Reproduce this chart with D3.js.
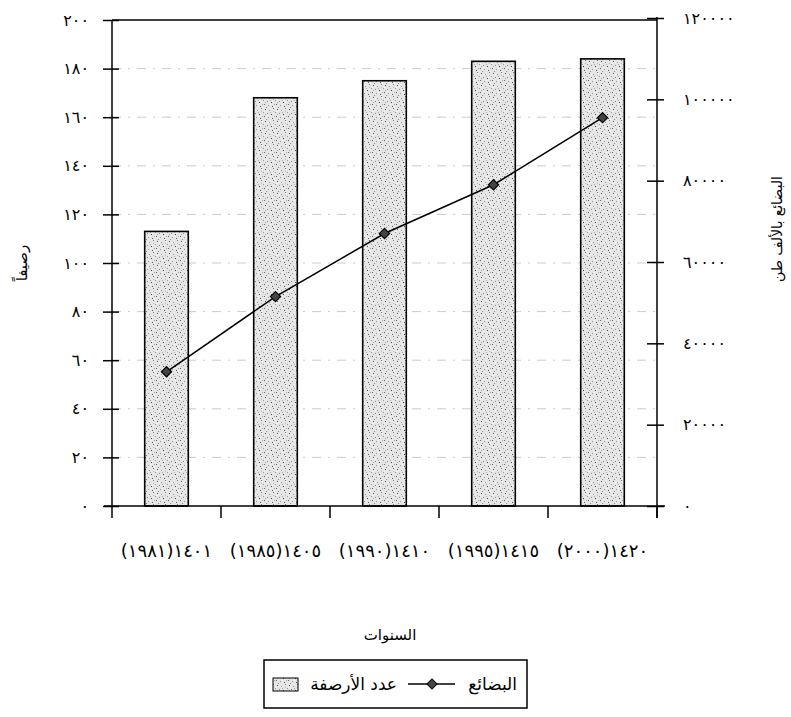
<!DOCTYPE html>
<html><head><meta charset="utf-8">
<script src="https://cdn.jsdelivr.net/npm/d3@7"></script>
<style>
body{margin:0;background:#fff}
svg text{font-family:"DejaVu Sans",sans-serif;fill:#000}
</style>
</head><body><svg id="c" width="791" height="717"></svg>
<script>
// ---- data ----
const categories = ["١٤٠١(١٩٨١)","١٤٠٥(١٩٨٥)","١٤١٠(١٩٩٠)","١٤١٥(١٩٩٥)","١٤٢٠(٢٠٠٠)"];
const berths = [113, 168, 175, 183, 184];          // عدد الأرصفة
const cargo  = [33000, 51500, 67000, 79000, 95500]; // البضائع بالألف طن
const leftTicks = [0,20,40,60,80,100,120,140,160,180,200];
const leftTickLabels = ["٠","٢٠","٤٠","٦٠","٨٠","١٠٠","١٢٠","١٤٠","١٦٠","١٨٠","٢٠٠"];
const rightTicks = [0,20000,40000,60000,80000,100000,120000];
const rightTickLabels = ["٠","٢٠٠٠٠","٤٠٠٠٠","٦٠٠٠٠","٨٠٠٠٠","١٠٠٠٠٠","١٢٠٠٠٠"];
const leftTitle = "رصيفاً";
const rightTitle = "البضائع بالألف طن";
const xTitle = "السنوات";
const legendLabels = ["عدد الأرصفة","البضائع"];

// ---- layout ----
const L = 112, R = 657, T = 20, B = 506;
const svg = d3.select("#c");

// stipple pattern
const defs = svg.append("defs");
const pat = defs.append("pattern").attr("id","stip").attr("patternUnits","userSpaceOnUse")
  .attr("width",12).attr("height",12);
pat.append("rect").attr("width",12).attr("height",12).attr("fill","#e6e6e6");
const dots = [[1,1,"#555"],[5,2,"#999"],[9,0,"#777"],[3,5,"#888"],[7,6,"#444"],[11,4,"#999"],
  [0,8,"#666"],[4,9,"#999"],[8,10,"#555"],[10,8,"#aaa"],[2,11,"#888"],[6,4,"#aaa"],[9,3,"#bbb"],[1,6,"#aaa"],
  [6,8,"#f8f8f8"],[3,2,"#f8f8f8"],[10,11,"#f8f8f8"],[8,5,"#fafafa"],[0,3,"#fafafa"]];
dots.forEach(([x,y,c])=>pat.append("rect").attr("x",x).attr("y",y).attr("width",1).attr("height",1).attr("fill",c));

const x = d3.scaleBand().domain(categories).range([L,R]).paddingInner(0.6).paddingOuter(0.3);
const yL = d3.scaleLinear().domain([0,200]).range([B,T]);
const yR = d3.scaleLinear().domain([0,120000]).range([B,T-2]);

// grid lines
svg.append("g").selectAll("line").data(leftTicks.filter(d=>d>0 && d<200)).join("line")
  .attr("x1",L).attr("x2",R).attr("y1",d=>yL(d)).attr("y2",d=>yL(d))
  .attr("stroke","#b5b5b5").attr("stroke-width",0.7).attr("stroke-dasharray","9,7,2,7");

// top frame
svg.append("line").attr("x1",L).attr("x2",R).attr("y1",T).attr("y2",T).attr("stroke","#000").attr("stroke-width",1.5);

// bars
svg.append("g").selectAll("rect").data(categories).join("rect")
  .attr("x",d=>x(d)).attr("width",x.bandwidth())
  .attr("y",(d,i)=>yL(berths[i])).attr("height",(d,i)=>B-yL(berths[i]))
  .attr("fill","url(#stip)").attr("stroke","#000").attr("stroke-width",1.6);

// left axis
const gl = svg.append("g").attr("transform",`translate(${L},0)`)
  .call(d3.axisLeft(yL).tickValues(leftTicks).tickFormat((d,i)=>leftTickLabels[i]).tickSize(9).tickPadding(14));
gl.select(".domain").remove();
gl.selectAll(".tick line").attr("x1",7).attr("stroke-width",1.5);
gl.selectAll(".tick text").attr("font-size",16).attr("letter-spacing",3.5).attr("font-family","DejaVu Sans");
gl.append("line").attr("x1",0).attr("x2",0).attr("y1",T).attr("y2",B+12).attr("stroke","#000").attr("stroke-width",1.5);

// right axis
const gr = svg.append("g").attr("transform",`translate(${R},0)`)
  .call(d3.axisRight(yR).tickValues(rightTicks).tickFormat((d,i)=>rightTickLabels[i]).tickSize(7).tickPadding(19));
gr.select(".domain").remove();
gr.selectAll(".tick line").attr("x1",-10).attr("stroke-width",1.5);
gr.selectAll(".tick text").attr("font-size",16).attr("letter-spacing",4).attr("font-family","DejaVu Sans");
gr.append("line").attr("x1",0).attr("x2",0).attr("y1",T-3).attr("y2",B+12).attr("stroke","#000").attr("stroke-width",1.5);

// x axis
const gx = svg.append("g").attr("transform",`translate(0,${B})`);
gx.append("line").attr("x1",L-8).attr("x2",R+8).attr("y1",0).attr("y2",0).attr("stroke","#000").attr("stroke-width",1.5);
const bounds = categories.map(d=>x(d)-x.step()*x.paddingInner()/2).concat([R]);
gx.selectAll("line.tk").data(bounds.slice(1)).join("line").attr("class","tk")
  .attr("x1",d=>d).attr("x2",d=>d).attr("y1",0).attr("y2",12).attr("stroke","#000").attr("stroke-width",1.5);
gx.selectAll("text").data(categories).join("text")
  .attr("x",d=>x(d)+x.bandwidth()/2).attr("y",51)
  .attr("text-anchor","middle").attr("direction","rtl")
  .attr("font-size",18).attr("letter-spacing",3.6).text(d=>d);

// line + markers
const pts = categories.map((c,i)=>[x(c)+x.bandwidth()/2, yR(cargo[i])]);
svg.append("path").attr("d",d3.line()(pts)).attr("fill","none").attr("stroke","#000").attr("stroke-width",1.5);
svg.append("g").selectAll("path").data(pts).join("path")
  .attr("transform",d=>`translate(${d[0]},${d[1]}) rotate(45)`)
  .attr("d","M-3.6,-3.6H3.6V3.6H-3.6Z").attr("fill","#444").attr("stroke","#000").attr("stroke-width",1.2);

// titles
svg.append("text").attr("transform","translate(27,263) rotate(-90)").attr("text-anchor","middle")
  .attr("font-size",15).text(leftTitle);
svg.append("text").attr("transform","translate(782,229) rotate(-90)").attr("text-anchor","middle")
  .attr("font-size",14).text(rightTitle);
svg.append("text").attr("x",390).attr("y",640).attr("text-anchor","middle").attr("font-size",15).text(xTitle);

// legend
const lg = svg.append("g");
lg.append("rect").attr("x",264).attr("y",660).attr("width",263).attr("height",48)
  .attr("fill","#fff").attr("stroke","#000").attr("stroke-width",1.5);
lg.append("rect").attr("x",273).attr("y",678).attr("width",25).attr("height",13)
  .attr("fill","url(#stip)").attr("stroke","#000").attr("stroke-width",1);
lg.append("text").attr("x",397).attr("y",690).attr("text-anchor","end").attr("font-size",17).text(legendLabels[0]);
lg.append("line").attr("x1",408).attr("x2",455).attr("y1",684).attr("y2",684).attr("stroke","#000").attr("stroke-width",1.5);
lg.append("path").attr("transform","translate(432,684) rotate(45)").attr("d","M-3.6,-3.6H3.6V3.6H-3.6Z").attr("fill","#444").attr("stroke","#000");
lg.append("text").attr("x",517).attr("y",690).attr("text-anchor","end").attr("font-size",17).text(legendLabels[1]);
</script>
</body></html>
